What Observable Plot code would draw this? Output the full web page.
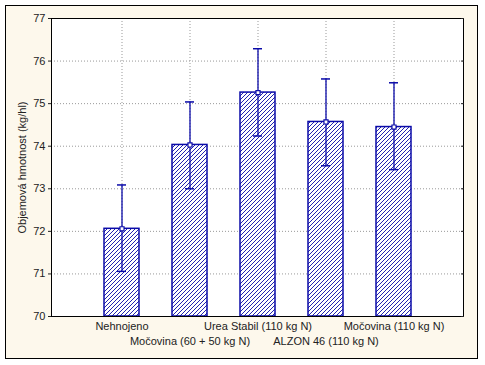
<!DOCTYPE html>
<html><head><meta charset="utf-8">
<script src="https://cdn.jsdelivr.net/npm/d3@7"></script>
<script src="https://cdn.jsdelivr.net/npm/@observablehq/plot@0.6"></script>
<style>
body{margin:0;background:#fff;}
#wrap{position:relative;width:485px;height:365px;}
#panel{position:absolute;left:5px;top:5px;width:473px;height:354px;border:1px solid #000;background:#fdf8ec;box-sizing:border-box}
#chart{position:absolute;left:0;top:0}
</style></head><body>
<div id="wrap"><div id="panel"></div><div id="chart"></div></div>
<script>
const categories = ["Nehnojeno", "Močovina (60 + 50 kg N)", "Urea Stabil (110 kg N)", "ALZON 46 (110 kg N)", "Močovina (110 kg N)"];
const means = [72.06, 74.03, 75.26, 74.57, 74.45];
const lower = [71.06, 73.00, 74.24, 73.54, 73.45];
const upper = [73.09, 75.04, 76.29, 75.58, 75.49];
const yTicks = [70, 71, 72, 73, 74, 75, 76, 77];
const yLabel = "Objemová hmotnost (kg/hl)";

const data = categories.map((c, i) => ({cat: c, mean: means[i], lo: lower[i], hi: upper[i]}));
const blue = "#0a0aa8";
const row1 = categories.filter((d, i) => i % 2 === 0);
const row2 = categories.filter((d, i) => i % 2 === 1);

const chart = Plot.plot({
  width: 485,
  height: 365,
  marginLeft: 51,
  marginRight: 22,
  marginTop: 18,
  marginBottom: 49,
  style: {background: "transparent", fontFamily: "'Liberation Sans', Arial, sans-serif", fontSize: "11px", color: "#222"},
  x: {type: "band", domain: categories, paddingInner: 0.49, paddingOuter: 0.745},
  y: {domain: [70, 77]},
  marks: [
    Plot.frame({fill: "white", stroke: "none"}),
    Plot.ruleY(yTicks, {stroke: "#999", strokeDasharray: "1,2"}),
    Plot.ruleX(categories, {stroke: "#999", strokeDasharray: "1,2"}),
    Plot.barY(data, {x: "cat", y1: 70, y2: "mean", fill: "url(#hatch)", stroke: blue, strokeWidth: 1.5}),
    Plot.ruleX(data, {x: "cat", y1: "lo", y2: "hi", stroke: blue, strokeWidth: 1.3}),
    Plot.tickY(data, {x: "cat", y: "hi", stroke: blue, strokeWidth: 1.5, insetLeft: 13, insetRight: 13}),
    Plot.tickY(data, {x: "cat", y: "lo", stroke: blue, strokeWidth: 1.5, insetLeft: 13, insetRight: 13}),
    Plot.dot(data, {x: "cat", y: "mean", symbol: "square", r: 2.3, fill: "white", stroke: blue, strokeWidth: 1.2}),
    Plot.frame({stroke: "#000", strokeWidth: 1}),
    Plot.axisY(yTicks, {anchor: "left", tickSize: 3, tickPadding: 3, fontSize: 11, label: yLabel, labelAnchor: "center", labelArrow: "none", labelOffset: 33}),
    Plot.axisY(yTicks, {anchor: "right", tickSize: -3, tickFormat: () => "", label: null}),
    Plot.axisX(row1, {anchor: "bottom", tickSize: 0, tickPadding: 6, fontSize: 11, label: null}),
    Plot.axisX(row2, {anchor: "bottom", tickSize: 0, tickPadding: 21, fontSize: 11, label: null})
  ]
});

const ns = "http://www.w3.org/2000/svg";
const defs = document.createElementNS(ns, "defs");
const pat = document.createElementNS(ns, "pattern");
pat.setAttribute("id", "hatch");
pat.setAttribute("patternUnits", "userSpaceOnUse");
pat.setAttribute("width", "4");
pat.setAttribute("height", "4");
const bg = document.createElementNS(ns, "rect");
bg.setAttribute("width", "4"); bg.setAttribute("height", "4"); bg.setAttribute("fill", "white");
const p = document.createElementNS(ns, "path");
p.setAttribute("d", "M-1,1 l2,-2 M0,4 l4,-4 M3,5 l2,-2");
p.setAttribute("stroke", blue);
p.setAttribute("stroke-width", "0.9");
p.setAttribute("shape-rendering", "crispEdges");
pat.appendChild(bg); pat.appendChild(p);
defs.appendChild(pat);
chart.insertBefore(defs, chart.firstChild);
document.getElementById("chart").appendChild(chart);
</script>
</body></html>
